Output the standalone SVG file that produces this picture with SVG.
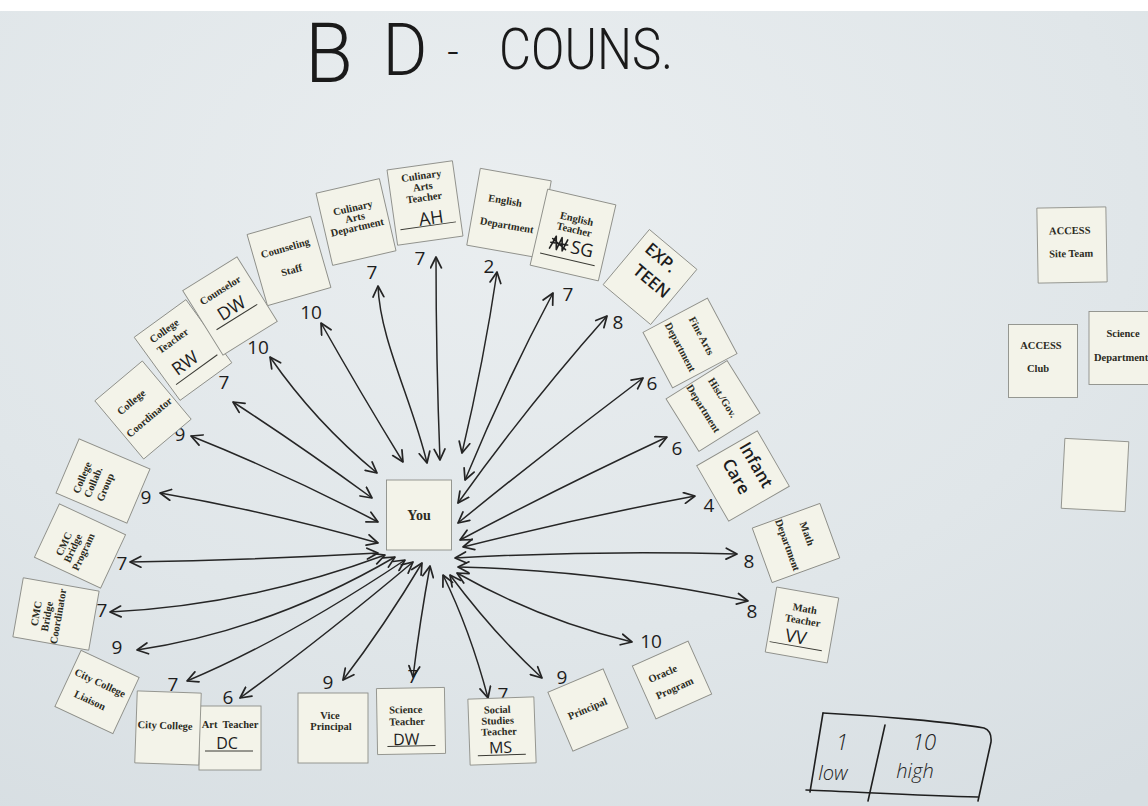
<svg xmlns="http://www.w3.org/2000/svg" width="1148" height="806" viewBox="0 0 1148 806">
  <defs>
    <radialGradient id="board" cx="0.45" cy="0.25" r="0.9">
      <stop offset="0" stop-color="#eaeef0"/>
      <stop offset="0.6" stop-color="#e0e6e9"/>
      <stop offset="1" stop-color="#d7dee2"/>
    </radialGradient>
    <marker id="ah" viewBox="0 0 12 12" refX="11" refY="6" markerWidth="13" markerHeight="13" markerUnits="userSpaceOnUse" orient="auto-start-reverse">
      <path d="M1,1 L11,6 L1,11" fill="none" stroke="#242424" stroke-width="1.6" stroke-linecap="round" stroke-linejoin="round"/>
    </marker>
    <style>
      .card { fill: #f3f3e9; stroke: #8d8e88; stroke-width: 0.9; }
      .pt { font-family: "Liberation Serif", "Times New Roman", serif; font-weight: bold; font-size: 10.5px; fill: #2b2b22; text-anchor: middle; }
      .hw { font-family: "Open Sans", "DejaVu Sans", sans-serif; fill: #1d1d1d; text-anchor: middle; }
      .ttl { font-family: Roboto, "Open Sans", sans-serif; font-weight: 300; fill: #1a1a1a; text-anchor: middle; }
      .ini { font-size: 18px; font-weight: 400; }
      .big { font-size: 17px; font-weight: 600; }
      .num { font-size: 19px; font-weight: 400; }
      .ul { stroke: #3a3a34; stroke-width: 1; fill: none; }
      .ink { fill: none; stroke: #1f1f1f; stroke-width: 1.6; stroke-linecap: round; stroke-linejoin: round; }
      #connectors path { fill: none; stroke: #262626; stroke-width: 1.5; marker-start: url(#ah); marker-end: url(#ah); }
    </style>
  </defs>

  <!-- whiteboard -->
  <rect x="0" y="0" width="1148" height="806" fill="url(#board)"/>
  <rect x="0" y="0" width="1148" height="11" fill="#ffffff"/>

  <!-- heading -->
  <g id="title" class="ttl">
    <text x="329" y="82" font-size="84" textLength="48" lengthAdjust="spacingAndGlyphs">B</text>
    <text x="405" y="75" font-size="73" textLength="45" lengthAdjust="spacingAndGlyphs">D</text>
    <text x="453" y="66" font-size="40">-</text>
    <text x="586" y="69" font-size="57" textLength="174" lengthAdjust="spacingAndGlyphs">COUNS.</text>
  </g>

  <!-- connectors: inner end at "You", outer end at each card -->
  <g id="connectors">
    <path d="M378,543 Q270,512 160,493"/>
    <path d="M378,522 Q286,474 191,436"/>
    <path d="M372,498 Q298,444 233,402"/>
    <path d="M377,473 Q315,422 270,357"/>
    <path d="M403,462 Q360,392 321,323"/>
    <path d="M427,463 C412,400 380,340 378,286"/>
    <path d="M440,460 Q436,360 436,257"/>
    <path d="M462,453 Q484,360 497,272"/>
    <path d="M465,480 Q505,383 553,293"/>
    <path d="M458,503 Q528,405 607,316"/>
    <path d="M458,523 Q550,448 643,378"/>
    <path d="M460,540 Q560,487 667,437"/>
    <path d="M463,547 Q578,518 695,496"/>
    <path d="M455,558 Q595,550 737,554"/>
    <path d="M458,567 Q600,570 748,601"/>
    <path d="M457,573 Q540,620 632,642"/>
    <path d="M450,575 Q494,634 542,678"/>
    <path d="M443,575 Q470,630 488,698"/>
    <path d="M430,566 Q420,620 413,677"/>
    <path d="M422,563 Q385,625 343,680"/>
    <path d="M413,562 Q320,640 240,698"/>
    <path d="M405,560 Q285,640 187,681"/>
    <path d="M395,557 Q270,630 137,650"/>
    <path d="M385,555 Q250,605 110,612"/>
    <path d="M378,553 Q255,560 130,562"/>
  </g>

  <!-- rating numbers beside the arrowheads -->
  <g id="ratings" class="hw num">
    <text x="146" y="504">9</text>
    <text x="180" y="441">9</text>
    <text x="224" y="389">7</text>
    <text x="258" y="354">10</text>
    <text x="311" y="319">10</text>
    <text x="372" y="279">7</text>
    <text x="420" y="265">7</text>
    <text x="489" y="273">2</text>
    <text x="568" y="301">7</text>
    <text x="618" y="329">8</text>
    <text x="652" y="390">6</text>
    <text x="677" y="455">6</text>
    <text x="709" y="512">4</text>
    <text x="749" y="568">8</text>
    <text x="752" y="618">8</text>
    <text x="651" y="648">10</text>
    <text x="562" y="684">9</text>
    <text x="503" y="701">7</text>
    <text x="413" y="683">7</text>
    <text x="328" y="689">9</text>
    <text x="228" y="704">6</text>
    <text x="173" y="691">7</text>
    <text x="117" y="654">9</text>
    <text x="102" y="617">7</text>
    <text x="122" y="570">7</text>
  </g>

  <!-- cards round the circle -->
  <g id="n-college-collab" transform="translate(103,481) rotate(-67)">
    <rect class="card" x="-29.5" y="-38.5" width="59" height="77"/>
    <text class="pt" x="-5" y="-17">College</text>
    <text class="pt" x="-5" y="-5">Collab.</text>
    <text class="pt" x="-5" y="8">Group</text>
  </g>
  <g id="n-college-coordinator" transform="translate(143,410) rotate(-40)">
    <rect class="card" x="-31" y="-38" width="62" height="76"/>
    <text class="pt" x="-4" y="-10">College</text>
    <text class="pt" x="0" y="13">Coordinator</text>
  </g>
  <g id="n-college-teacher" transform="translate(183,350) rotate(-36)">
    <rect class="card" x="-32" y="-39" width="64" height="78"/>
    <text class="pt" x="-4" y="-23">College</text>
    <text class="pt" x="-3" y="-10">Teacher</text>
    <text class="hw ini" x="-6" y="18">RW</text>
    <line class="ul" x1="-26" y1="24" x2="25" y2="24"/>
  </g>
  <g id="n-counselor" transform="translate(230,306) rotate(-32)">
    <rect class="card" x="-32" y="-38" width="64" height="76"/>
    <text class="pt" x="0" y="-15">Counselor</text>
    <text class="hw ini" x="0" y="9">DW</text>
    <line class="ul" x1="-24" y1="13" x2="24" y2="13"/>
  </g>
  <g id="n-counseling-staff" transform="translate(289,261) rotate(-16)">
    <rect class="card" x="-33" y="-37" width="66" height="74"/>
    <text class="pt" x="0" y="-10">Counseling</text>
    <text class="pt" x="0" y="13">Staff</text>
  </g>
  <g id="n-culinary-dept" transform="translate(356,222) rotate(-13)">
    <rect class="card" x="-32.5" y="-37" width="65" height="74"/>
    <text class="pt" x="0" y="-11">Culinary</text>
    <text class="pt" x="0" y="-1">Arts</text>
    <text class="pt" x="0" y="9">Department</text>
  </g>
  <g id="n-culinary-teacher" transform="translate(425,203) rotate(-8)">
    <rect class="card" x="-33" y="-38" width="66" height="76"/>
    <text class="pt" x="0" y="-24">Culinary</text>
    <text class="pt" x="0" y="-13">Arts</text>
    <text class="pt" x="0" y="-2">Teacher</text>
    <text class="hw ini" x="4" y="22">AH</text>
    <line class="ul" x1="-28" y1="23" x2="28" y2="23"/>
  </g>
  <g id="n-english-dept" transform="translate(509,213) rotate(10)">
    <rect class="card" x="-36" y="-39" width="72" height="78"/>
    <text class="pt" x="-6" y="-8">English</text>
    <text class="pt" x="0" y="16">Department</text>
  </g>
  <g id="n-english-teacher" transform="translate(573,235) rotate(13)">
    <rect class="card" x="-35" y="-39" width="70" height="78"/>
    <text class="pt" x="0" y="-13">English</text>
    <text class="pt" x="0" y="-2">Teacher</text>
    <path class="ink" d="M-20,18 L-16,5 L-13,18 L-10,5 L-7,18 L-4,6 M-20,12 L-3,11 M-19,8 L-4,16"/>
    <text class="hw ini" x="12" y="18">SG</text>
    <line class="ul" x1="-28" y1="25" x2="28" y2="25"/>
  </g>
  <g id="n-exp-teen" transform="translate(650,277) rotate(40)">
    <rect class="card" x="-31" y="-36" width="62" height="72"/>
    <text class="hw big" x="-4" y="-16">EXP.</text>
    <text class="hw big" x="4" y="8">TEEN</text>
  </g>
  <g id="n-fine-arts" transform="translate(690,343) rotate(62)">
    <rect class="card" x="-31.5" y="-36.5" width="63" height="73"/>
    <text class="pt" x="-1" y="-10">Fine Arts</text>
    <text class="pt" x="-1" y="14">Department</text>
  </g>
  <g id="n-hist-gov" transform="translate(713,406) rotate(58)">
    <rect class="card" x="-31" y="-36" width="62" height="72"/>
    <text class="pt" x="-2" y="-9">Hist./Gov.</text>
    <text class="pt" x="-3" y="13">Department</text>
  </g>
  <g id="n-infant-care" transform="translate(743,476) rotate(60)">
    <rect class="card" x="-32" y="-35" width="64" height="70"/>
    <text class="hw big" x="-3" y="-11">Infant</text>
    <text class="hw big" x="-3" y="12">Care</text>
  </g>
  <g id="n-math-dept" transform="translate(796,543) rotate(70)">
    <rect class="card" x="-29" y="-36" width="58" height="72"/>
    <text class="pt" x="-5" y="-10">Math</text>
    <text class="pt" x="-1" y="12">Department</text>
  </g>
  <g id="n-math-teacher" transform="translate(802,625) rotate(10)">
    <rect class="card" x="-31.5" y="-33" width="63" height="66"/>
    <text class="pt" x="0" y="-13">Math</text>
    <text class="pt" x="0" y="-1">Teacher</text>
    <text class="hw ini" x="-4" y="19">VV</text>
    <line class="ul" x1="-29" y1="22" x2="24" y2="22"/>
  </g>
  <g id="n-oracle" transform="translate(672,680) rotate(-24)">
    <rect class="card" x="-30.5" y="-29" width="61" height="58"/>
    <text class="pt" x="-6" y="-6">Oracle</text>
    <text class="pt" x="-1" y="12">Program</text>
  </g>
  <g id="n-principal" transform="translate(588,710) rotate(-23)">
    <rect class="card" x="-30" y="-32" width="60" height="64"/>
    <text class="pt" x="0" y="2">Principal</text>
  </g>
  <g id="n-social-studies" transform="translate(502,731) rotate(-2)">
    <rect class="card" x="-33" y="-33" width="66" height="66"/>
    <text class="pt" x="-4" y="-18">Social</text>
    <text class="pt" x="-4" y="-7">Studies</text>
    <text class="pt" x="-3" y="4">Teacher</text>
    <text class="hw ini" x="-2" y="22" style="font-size:16px">MS</text>
    <line class="ul" x1="-25" y1="24" x2="23" y2="24"/>
  </g>
  <g id="n-science-teacher" transform="translate(411,721) rotate(-1)">
    <rect class="card" x="-34" y="-33" width="68" height="66"/>
    <text class="pt" x="-5" y="-8">Science</text>
    <text class="pt" x="-4" y="4">Teacher</text>
    <text class="hw ini" x="-5" y="24" style="font-size:16px">DW</text>
    <line class="ul" x1="-24" y1="25" x2="24" y2="25"/>
  </g>
  <g id="n-vice-principal" transform="translate(333,728)">
    <rect class="card" x="-35" y="-35" width="70" height="70"/>
    <text class="pt" x="-3" y="-9">Vice</text>
    <text class="pt" x="-2" y="2">Principal</text>
  </g>
  <g id="n-art-teacher" transform="translate(230,738)">
    <rect class="card" x="-31" y="-32" width="62" height="64"/>
    <text class="pt" x="0" y="-10" xml:space="preserve">Art  Teacher</text>
    <text class="hw ini" x="-3" y="11" style="font-size:16px">DC</text>
    <line class="ul" x1="-25" y1="13" x2="23" y2="13"/>
  </g>
  <g id="n-city-college" transform="translate(168,728) rotate(2)">
    <rect class="card" x="-32" y="-36" width="64" height="72"/>
    <text class="pt" x="-3" y="1">City College</text>
  </g>
  <g id="n-city-college-liaison" transform="translate(97,692) rotate(25)">
    <rect class="card" x="-32" y="-31" width="64" height="62"/>
    <text class="pt" x="-1" y="-6">City College</text>
    <text class="pt" x="-3" y="14">Liaison</text>
  </g>
  <g id="n-cmc-coordinator" transform="translate(56,614) rotate(-80)">
    <rect class="card" x="-30" y="-38.5" width="60" height="77"/>
    <text class="pt" x="-3" y="-16">CMC</text>
    <text class="pt" x="-4" y="-5">Bridge</text>
    <text class="pt" x="-2" y="6">Coordinator</text>
  </g>
  <g id="n-cmc-program" transform="translate(80,546) rotate(-65)">
    <rect class="card" x="-29.5" y="-36.5" width="59" height="73"/>
    <text class="pt" x="-5" y="-12">CMC</text>
    <text class="pt" x="-5" y="-2">Bridge</text>
    <text class="pt" x="-4" y="9">Program</text>
  </g>

  <!-- centre card -->
  <g id="n-you" transform="translate(419,515)">
    <rect class="card" x="-32.5" y="-35" width="65" height="70"/>
    <text class="pt" x="0" y="5" style="font-size:14px">You</text>
  </g>

  <!-- cards off to the right -->
  <g id="n-access-site-team" transform="translate(1072,245) rotate(-1)">
    <rect class="card" x="-34.5" y="-37.5" width="69" height="75"/>
    <text class="pt" x="-2" y="-11">ACCESS</text>
    <text class="pt" x="-1" y="12">Site Team</text>
  </g>
  <g id="n-access-club" transform="translate(1043,361)">
    <rect class="card" x="-34.5" y="-36.5" width="69" height="73"/>
    <text class="pt" x="-2" y="-12">ACCESS</text>
    <text class="pt" x="-5" y="11">Club</text>
  </g>
  <g id="n-science-dept" transform="translate(1122,348)">
    <rect class="card" x="-33" y="-36.5" width="66" height="73"/>
    <text class="pt" x="1" y="-11">Science</text>
    <text class="pt" x="-1" y="13">Department</text>
  </g>
  <g id="n-blank" transform="translate(1095,475) rotate(3)">
    <rect class="card" x="-32" y="-35" width="64" height="70"/>
  </g>

  <!-- scale key -->
  <g id="legend">
    <path class="ink" d="M823,713 C880,716 950,722 984,728 Q992,731 991,742 L978,801"/>
    <path class="ink" d="M823,713 L810,792"/>
    <path class="ink" d="M806,790 C860,792 920,796 978,797"/>
    <path class="ink" d="M885,725 L868,801"/>
    <text class="hw" x="842" y="750" font-size="22" font-weight="300" font-style="italic">1</text>
    <text class="hw" x="833" y="780" font-size="20" font-weight="300" font-style="italic">low</text>
    <text class="hw" x="924" y="750" font-size="22" font-weight="300" font-style="italic">10</text>
    <text class="hw" x="915" y="778" font-size="20" font-weight="300" font-style="italic">high</text>
  </g>
</svg>
